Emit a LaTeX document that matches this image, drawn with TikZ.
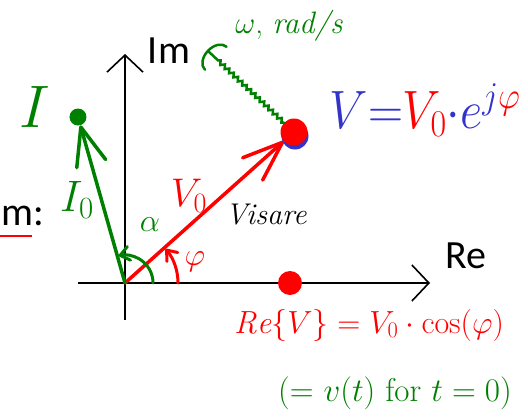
\documentclass[tikz,border=0pt]{standalone}
\usepackage{fix-cm}
\usepackage{graphicx}
\usepackage{fontspec}
\newfontfamily\axisfont{Carlito}
\usetikzlibrary{arrows.meta,decorations.pathmorphing}
\definecolor{inkred}{RGB}{255,0,0}
\definecolor{inkgreen}{RGB}{0,128,0}
\definecolor{inkblue}{RGB}{51,51,204}
\begin{document}
\begin{tikzpicture}[x=1pt,y=1pt,axe/.style={line width=1.6pt,-{Straight Barb[length=17pt,width=36pt]}},ink/.style={line width=3.5pt,line cap=round,line join=round},vecV/.style={ink,draw=inkred,-{Straight Barb[length=40pt,width=30pt,round]}},vecI/.style={ink,draw=inkgreen,-{Straight Barb[length=38pt,width=30pt,round]}},angarc/.style={line width=3pt,line cap=round,-{Straight Barb[length=9pt,width=14pt,round]}},dot/.style={circle,inner sep=0pt,minimum size=#1},axelbl/.style={font=\axisfont\fontsize{40}{40}\selectfont,inner sep=0pt},hand/.style={font=\fontsize{#1}{#1}\selectfont,inner sep=0pt},wavy/.style={line width=2.5pt,draw=inkgreen,line cap=round,decorate,decoration={snake,amplitude=1.8pt,segment length=6pt,post length=12pt},-{Arc Barb[length=12pt,width=34pt,round]}}]
\useasboundingbox (-125,-133) rectangle (403,283);
\coordinate (O) at (0,0);
\coordinate (reA) at (-47,0);
\coordinate (reB) at (305,0);
\coordinate (imA) at (0,-37);
\coordinate (imB) at (0,229);
\draw[axe] (reA)--(reB);
\draw[axe] (imA)--(imB);
\node[axelbl] (im) at (44,232) {Im};
\node[axelbl] (re) at (341,27) {Re};
\node[axelbl,anchor=base west] (ml) at (-124,58) {m:};
\draw[line width=2.5pt,inkred] (-125,47)--(-93,47);
% tips of the phasors
\node[dot=27pt,fill=inkblue] (vshadow) at (170,147) {};
\node[dot=27pt,fill=inkred] (vtip) at (169,151) {};
\node[dot=17pt,fill=inkgreen] (itip) at (-47,166) {};
\node[dot=24pt,fill=inkred] (redot) at (165,0) {};
\draw[vecV] (O)--(vtip);
\draw[vecI] (O)--(itip);
\draw[angarc,inkgreen] (28,0) arc[start angle=0,end angle=103,radius=28];
\draw[angarc,inkred] (53,0) arc[start angle=0,end angle=40,radius=53];
% labels
\node[hand=60,text=inkgreen] (ilbl) at (-90,176) {$I$};
\node[hand=44,text=inkgreen] (i0lbl) at (-48,83) {$I_0$};
\node[hand=40,text=inkred] (v0lbl) at (64,87) {$V_0$};
\node[hand=30] (visare) at (141,68) {\itshape Visare};
\node[hand=32,text=inkgreen] (alfa) at (25,58) {$\alpha$};
\node[hand=32,text=inkred] (fi) at (70,21) {$\varphi$};
\node[hand=31,text=inkgreen] (omega) at (164,257) {$\omega$, \itshape rad/s};
\node[hand=54] (vform) at (300,173) {\scalebox{0.9}[1]{$\color{inkblue}V{=}\color{inkred}V_0\color{inkblue}{\cdot}e^{j\color{inkred}\varphi}$}};
\node[hand=32,text=inkred] (reform) at (244,-42) {$\mathit{Re}\{V\}=V_0\cdot\cos(\varphi)$};
\node[hand=33,text=inkgreen] (tnote) at (270,-110) {(= $v(t)$ for $t=0$)};
\coordinate (wend) at (82,233);
\draw[wavy] (vtip)--(wend);
\end{tikzpicture}
\end{document}
